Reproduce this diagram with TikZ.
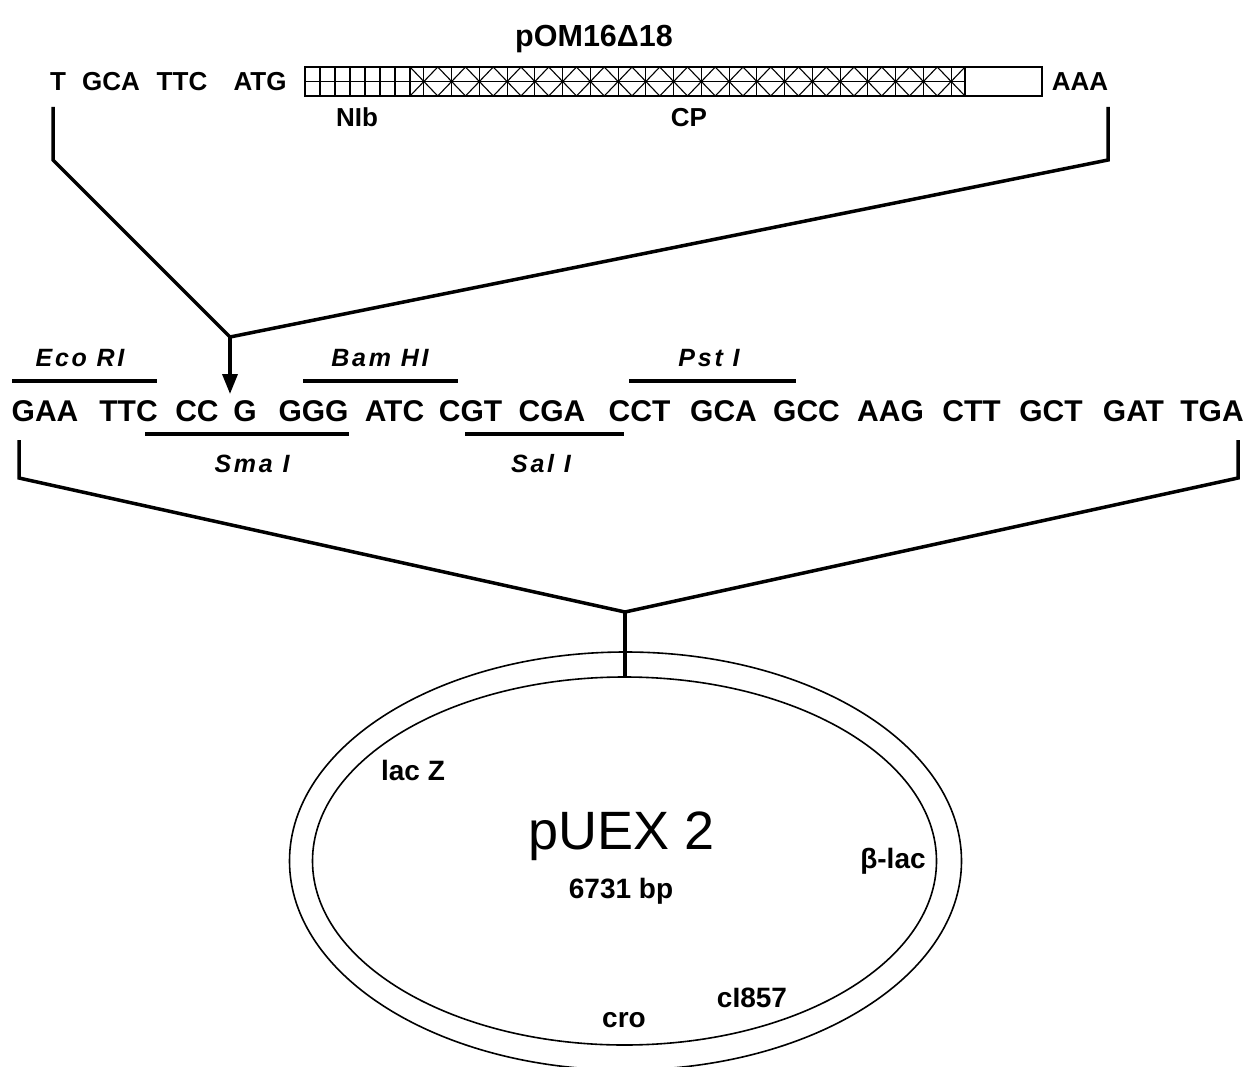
\documentclass[tikz,border=0pt]{standalone}
\usepackage{fontspec}
\setmainfont{Liberation Sans}
\newfontfamily\labfont[LetterSpace=11]{Liberation Sans}
\usetikzlibrary{arrows.meta}
\begin{document}
\begin{tikzpicture}[x=1pt,y=-1pt,
  base/.style={inner sep=0pt,anchor=base},
  seq/.style={base,font=\fontsize{30}{32}\selectfont\bfseries},
  toptxt/.style={base,font=\fontsize{26}{28}\selectfont\bfseries},
  plas/.style={base,font=\fontsize{28}{30}\selectfont\bfseries},
  enz/.style={base,font=\labfont\fontsize{25}{27}\selectfont\bfseries\itshape},
  heavy/.style={line width=3.5pt,line join=miter},
  site/.style={line width=3.5pt},
  grid/.style={line width=1.1pt},
  ring/.style={line width=1.6pt}]
\clip (0,0) rectangle (1252,1067);
\fill[white] (0,0) rectangle (1252,1067);

% ---------- top construct ----------
\node[base,font=\fontsize{30.5}{32}\selectfont\bfseries] (title) at (594,47) {pOM16Δ18};
\node[toptxt] (t1) at (58,91) {T};
\node[toptxt] (t2) at (111,91) {GCA};
\node[toptxt] (t3) at (182,91) {TTC};
\node[toptxt] (t4) at (260,91) {ATG};
\node[toptxt] (aaa) at (1080,91) {AAA};
\node[toptxt] (nib) at (357,127) {NIb};
\node[toptxt] (cp) at (689,127) {CP};

% hatched bar
\draw[grid] (305,67) rectangle (1042,96);
\foreach \i in {1,...,7} \draw[grid] (305+15*\i,67) -- (305+15*\i,96);
\draw[grid] (305,81.5) -- (965,81.5);
\foreach \i in {0,...,19} {
  \draw[grid] (410+27.75*\i,67) -- (410+27.75*\i+27.75,96);
  \draw[grid] (410+27.75*\i,96) -- (410+27.75*\i+27.75,67);
  \draw[grid] (410+27.75*\i+13.875,67) -- (410+27.75*\i+13.875,96);
}
\draw[grid] (965,67) -- (965,96);

% top brackets
\coordinate (la) at (53,107);
\coordinate (lb) at (53,160);
\coordinate (ra) at (1108,107);
\coordinate (rb) at (1108,160);
\coordinate (v1) at (230,337);
\coordinate (tip) at (230,394);
\draw[heavy] (la) -- (lb) -- (v1) -- (rb) -- (ra);
\draw[heavy,-{Triangle[width=15pt,length=20pt]}] (v1) -- (tip);

% ---------- polylinker ----------
\node[enz] (eco) at (80,366) {Eco RI};
\node[enz] (bam) at (380,366) {Bam HI};
\node[enz] (pst) at (709,366) {Pst I};
\draw[site] (12,381) -- (157,381);
\draw[site] (303,381) -- (458,381);
\draw[site] (629,381) -- (796,381);

\node[seq] (s1) at (45,421) {GAA};
\node[seq] (s2) at (128.5,421) {TTC};
\node[seq] (s3) at (197,421) {CC};
\node[seq] (s4) at (245,421) {G};
\node[seq] (s5) at (313.5,421) {GGG};
\node[seq] (s6) at (394.5,421) {ATC};
\node[seq] (s7) at (470.5,421) {CGT};
\node[seq] (s8) at (552,421) {CGA};
\node[seq] (s9) at (639.5,421) {CCT};
\node[seq] (s10) at (723.5,421) {GCA};
\node[seq] (s11) at (806.5,421) {GCC};
\node[seq] (s12) at (890.5,421) {AAG};
\node[seq] (s13) at (971.5,421) {CTT};
\node[seq] (s14) at (1051,421) {GCT};
\node[seq] (s15) at (1133.5,421) {GAT};
\node[seq] (s16) at (1212,421) {TGA};

\draw[site] (145,434) -- (349,434);
\draw[site] (465,434) -- (624,434);
\node[enz] (sma) at (252,472) {Sma I};
\node[enz] (sal) at (541,472) {Sal I};

% lower brackets
\coordinate (lc) at (19,440);
\coordinate (ld) at (19,478);
\coordinate (rc) at (1238,440);
\coordinate (rd) at (1238,478);
\coordinate (v2) at (625,612);
\coordinate (ins) at (625,677);
\draw[heavy] (lc) -- (ld) -- (v2) -- (rd) -- (rc);
\draw[heavy] (v2) -- (ins);

% ---------- plasmid ----------
\draw[ring] (625.5,861) ellipse [x radius=336, y radius=209];
\draw[ring] (624.5,861) ellipse [x radius=312, y radius=184];
\node[base,font=\fontsize{54}{56}\selectfont] (name) at (622,849) {pUEX 2};
\node[plas] (bp) at (621,898) {6731 bp};
\node[plas] (lacz) at (413,780) {lac Z};
\node[plas] (blac) at (893,868) {β-lac};
\node[plas] (ci) at (752,1007) {cI857};
\node[plas] (cro) at (624,1027) {cro};
\end{tikzpicture}
\end{document}
